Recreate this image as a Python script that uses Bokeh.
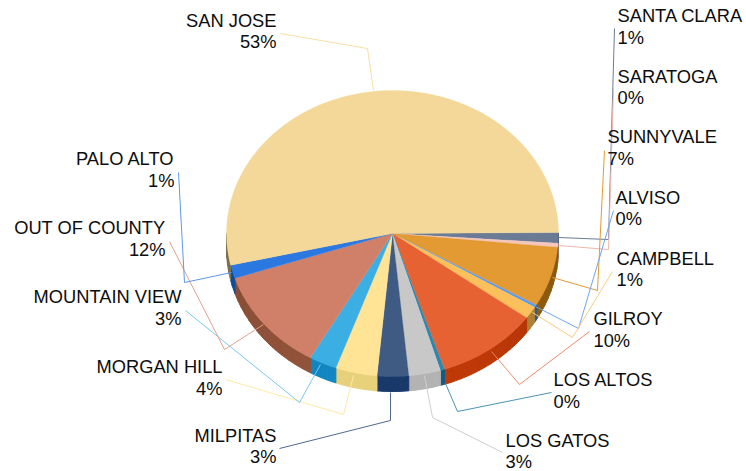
import numpy as np
from bokeh.plotting import figure
from bokeh.models import Range1d
from bokeh.embed import file_html
from bokeh.resources import INLINE
from bokeh.core.properties import value as V

names = ["SANTA CLARA","SARATOGA","SUNNYVALE","ALVISO","CAMPBELL","GILROY","LOS ALTOS","LOS GATOS","MILPITAS","MORGAN HILL","MOUNTAIN VIEW","OUT OF COUNTY","PALO ALTO","SAN JOSE"]
labels = ["1%","0%","7%","0%","1%","10%","0%","3%","3%","4%","3%","12%","1%","53%"]
shares = [1.2,0.45,6.8,0.3,1.4,9.9,0.4,3.1,3.05,4.05,2.7,11.7,1.5,53.45]
top_colors = ["#6B7B95","#F5C6BC","#E39A33","#5B9BE8","#FBBF5C","#E76233","#2E86AB","#C8C8C8","#3F5B83","#FFE495","#3BAEE3","#D08068","#2B78E0","#F4D899"]
side_colors = ["#4A5A70","#C09A90","#9A6410","#1F5FB0","#B8893A","#C23A08","#0F5F85","#B4B4B4","#1A3A6B","#E8D27C","#1288C4","#96553C","#0F55B0","#8E7F5A"]
line_colors = ["#6B7B95","#F0B8AC","#E39A33","#6FA5EE","#FBCB80","#EC8A6C","#4A93B4","#CFCFCF","#51688E","#FFE9A8","#7CC8EE","#E0A08E","#5C98EA","#F6DFA8"]
leaders = [
 [(558,237),(608,239),(614,28)],
 [(558,245),(608,249),(613,88)],
 [(552,277),(597,290),(604,150)],
 [(535,306),(578,328),(613,210)],
 [(532,312),(572,337),(612,271)],
 [(491,351),(519,384),(589,331)],
 [(445,383),(457,411),(551,392)],
 [(424,375),(432,417),(502,452)],
 [(390,392),(390,420),(279,448)],
 [(353,375),(343,414),(225,379)],
 [(320,364),(299,402),(185,310)],
 [(263,324),(224,349),(169,241)],
 [(231,272),(184,282),(178,172)],
 [(373,90),(367,48),(280,33)],
]
label_pos = [
 (617,15,37,"left"),(617,76,97,"left"),(607,136,158,"left"),(615,197,218,"left"),(616,258,279,"left"),
 (593,318,340,"left"),(553,379,401,"left"),(505,440,461,"left"),(276,435,456,"right"),(222,366,388,"right"),
 (181,296,318,"right"),(165,227,249,"right"),(174,158,180,"right"),(276,20,41,"right"),
]
CX, CY, RX, RY, DEPTH = 392, 233, 166, 143, 15
START = -0.4

p = figure(width=746, height=471, x_range=Range1d(0,746), y_range=Range1d(471,0),
           output_backend="svg", toolbar_location=None, min_border=0, outline_line_color=None,
           background_fill_color="white", border_fill_color="white")
p.axis.visible = False
p.grid.visible = False

def shade(hex_color, t):
    rgb = np.array([int(hex_color[i:i+2],16) for i in (1,3,5)], float)
    f = 0.86 + 0.14*np.sin(np.radians(t))
    r,g,b = np.clip(rgb*f,0,255).astype(int)
    return f"#{r:02x}{g:02x}{b:02x}"

edges = START + np.concatenate([[0],np.cumsum(shares)])*360/sum(shares)

# side wall: front half of the disc
for i in range(len(shares)):
    a0, a1 = max(edges[i],0), min(edges[i+1],180)
    if a1 <= a0: continue
    steps = np.arange(a0, a1, 3.0).tolist()+[a1]
    for s0, s1 in zip(steps[:-1], steps[1:]):
        tt = np.radians(np.linspace(s0,s1,4))
        x = CX+RX*np.cos(tt); y = CY+RY*np.sin(tt)
        xs = list(x)+list(x[::-1]); ys = list(y)+list((y+DEPTH)[::-1])
        c = shade(side_colors[i], (s0+s1)/2)
        p.patch(xs, ys, fill_color=c, line_color=c, line_width=1)

# top face
for i in range(len(shares)):
    tt = np.radians(np.linspace(edges[i],edges[i+1],max(3,int(shares[i]*8))))
    xs = [CX]+list(CX+RX*np.cos(tt)); ys = [CY]+list(CY+RY*np.sin(tt))
    p.patch(xs, ys, fill_color=top_colors[i], line_color=top_colors[i], line_width=0.3)

# leader lines
for pts, c in zip(leaders, line_colors):
    p.line([q[0] for q in pts],[q[1] for q in pts], line_color=c, line_width=1)

# labels
for n,l,(x,y1,y2,al) in zip(names,labels,label_pos):
    for txt,y in ((n,y1),(l,y2)):
        p.text([x],[y],text=[txt],text_align=al,text_baseline="alphabetic",text_color="#0d0d0d",
               text_font=V("Liberation Sans"),text_font_size="18.3px")

open("out.html","w").write(file_html(p, INLINE))
